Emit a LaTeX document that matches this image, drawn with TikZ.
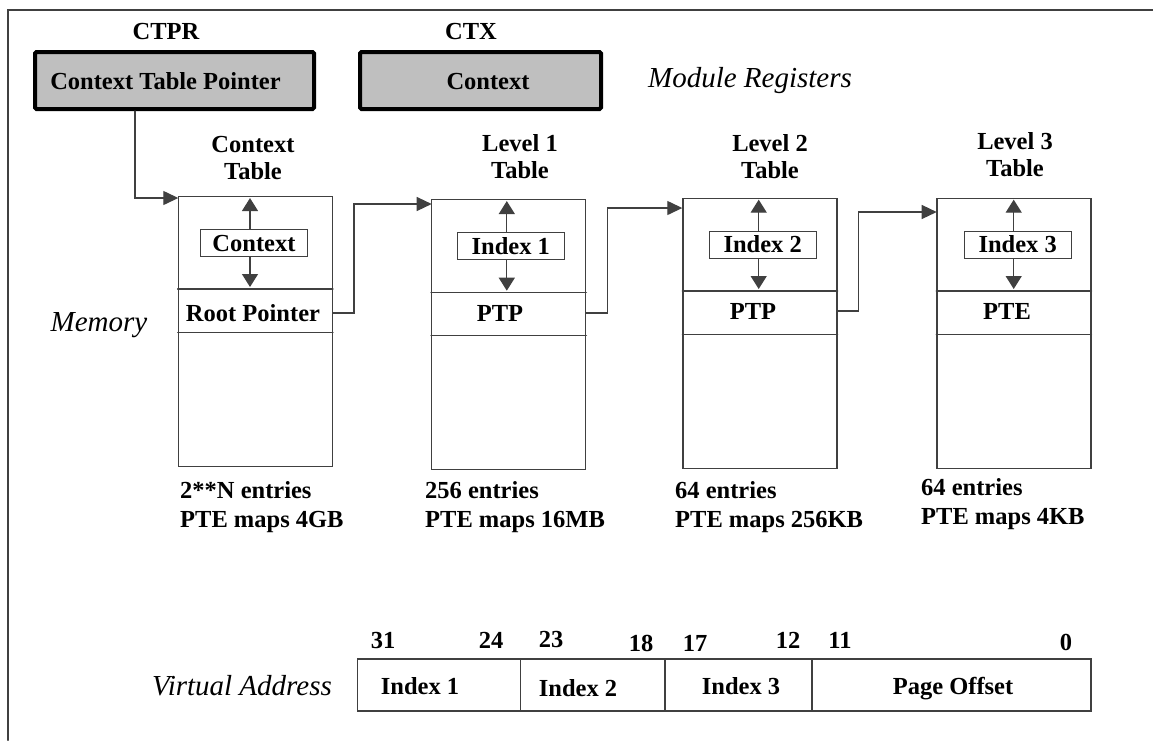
\documentclass[tikz,border=0pt]{standalone}
\usepackage{fontspec}
\setmainfont{Liberation Serif}
\usetikzlibrary{arrows.meta}

\begin{document}
\begin{tikzpicture}
		[x=1pt,y=-1pt,line cap=round,
		%Styles
		lab/.style={font=\fontsize{24.5}{27}\selectfont\bfseries,inner sep=0pt,text height=16pt,text depth=0pt},
		two lines/.style={font=\fontsize{24.5}{27}\selectfont\bfseries,inner sep=0pt,align=center},
		notes/.style={font=\fontsize{24.5}{29}\selectfont\bfseries,inner sep=0pt,align=left,anchor=west},
		side text/.style={font=\fontsize{29}{32}\selectfont\itshape,inner sep=0pt,text height=19pt,text depth=0pt},
		register/.style={draw=black,line width=4pt,fill=regcolor,rounded corners=1.5pt,minimum width=279pt,minimum height=57pt,inner sep=0pt},
		pagetable/.style={draw=linecolor,line width=1.3pt,minimum width=154pt,minimum height=270pt,inner sep=0pt},
		row line/.style={linecolor,line width=1.3pt},
		idxbox/.style={draw=linecolor,line width=1.3pt,minimum width=107pt,minimum height=27pt,inner sep=0pt,font=\fontsize{24.5}{27}\selectfont\bfseries,text height=16pt,text depth=0pt},
		field/.style={draw=linecolor,line width=1.5pt,minimum height=52pt,inner sep=0pt},
		ptr/.style={linecolor,line width=1.3pt,shorten >=2pt,-{Triangle[length=13pt,width=16pt]}},
		pointer line/.style={linecolor,line width=1.3pt,-{Triangle[length=15pt,width=14pt]}}
		]
		
		%Colors
		\colorlet{regcolor}{black!25}	%register fill
		\colorlet{linecolor}{black!75}	%boxes and connectors
		
		\useasboundingbox (0,0) rectangle (1153,740);
		\draw[linecolor,line width=2pt] (8,740) -- (8,10) -- (1153,10);
		
		%Module registers
		\node[lab] (ctprname) at (166,31) {CTPR};
		\node[register] (ctpr) at (174.5,80.5) {};
		\node[lab] (ctprtext) at (165.5,81) {Context Table Pointer};
		\node[lab] (ctxname) at (471,31) {CTX};
		\node[register,minimum width=241pt] (ctx) at (480.5,80.5) {};
		\node[lab] (ctxtext) at (488,81) {Context};
		\node[side text] (modregs) at (750,78) {Module Registers};
		
		\node[side text] (memory) at (99,322) {Memory};
		
		%Context table
		\node[pagetable] (ct) at (255.3,331.7) {};
		\node[two lines] (cttitle) at (253,158) {Context\\Table};
		\draw[row line] (ct.west |- 0,289) coordinate (ctrow) -- (ct.east |- 0,289);
		\draw[row line] (ct.west |- 0,332.7) -- (ct.east |- 0,332.7);
		\node[idxbox] (ctidx) at (254,243) {Context};
		\draw[ptr] ([xshift=-4pt]ctidx.north) -- ([xshift=-4pt]ctidx.north |- ct.north);
		\draw[ptr] ([xshift=-4pt]ctidx.south) -- ([xshift=-4pt]ctidx.south |- ctrow);
		\node[lab] (rootptr) at (253,313) {Root Pointer};
		
		%Level 1 table
		\node[pagetable] (l1) at (508.7,334.7) {};
		\node[two lines] (l1title) at (520,157) {Level 1\\Table};
		\draw[row line] (l1.west |- 0,292.7) coordinate (l1row) -- (l1.east |- 0,292.7);
		\draw[row line] (l1.west |- 0,335.7) -- (l1.east |- 0,335.7);
		\node[idxbox] (l1idx) at (510.8,246.3) {Index 1};
		\draw[ptr] ([xshift=-4pt]l1idx.north) -- ([xshift=-4pt]l1idx.north |- l1.north);
		\draw[ptr] ([xshift=-4pt]l1idx.south) -- ([xshift=-4pt]l1idx.south |- l1row);
		\node[lab] (l1ptp) at (500,313) {PTP};
		
		%Level 2 table
		\node[pagetable] (l2) at (760,333.3) {};
		\node[two lines] (l2title) at (770,157) {Level 2\\Table};
		\draw[row line] (l2.west |- 0,291) coordinate (l2row) -- (l2.east |- 0,291);
		\draw[row line] (l2.west |- 0,334.3) -- (l2.east |- 0,334.3);
		\node[idxbox] (l2idx) at (762.7,244.7) {Index 2};
		\draw[ptr] ([xshift=-4pt]l2idx.north) -- ([xshift=-4pt]l2idx.north |- l2.north);
		\draw[ptr] ([xshift=-4pt]l2idx.south) -- ([xshift=-4pt]l2idx.south |- l2row);
		\node[lab] (l2ptp) at (753,311) {PTP};
		
		%Level 3 table
		\node[pagetable] (l3) at (1013.9,333.3) {};
		\node[two lines] (l3title) at (1015,155) {Level 3\\Table};
		\draw[row line] (l3.west |- 0,291) coordinate (l3row) -- (l3.east |- 0,291);
		\draw[row line] (l3.west |- 0,334.3) -- (l3.east |- 0,334.3);
		\node[idxbox] (l3idx) at (1017.7,244.7) {Index 3};
		\draw[ptr] ([xshift=-4pt]l3idx.north) -- ([xshift=-4pt]l3idx.north |- l3.north);
		\draw[ptr] ([xshift=-4pt]l3idx.south) -- ([xshift=-4pt]l3idx.south |- l3row);
		\node[lab] (l3pte) at (1007,311) {PTE};
		
		%Table walk
		\coordinate (ctin) at (178.3,198);
		\coordinate (l1in) at (431.7,204);
		\coordinate (l2in) at (682.3,208);
		\coordinate (l3in) at (936.7,212);
		\draw[pointer line] (ctpr.south -| 135,0) |- (ctin);
		\draw[pointer line] (rootptr.east -| ct.east) -- ++(21,0) |- (l1in);
		\draw[pointer line] (l1ptp.east -| l1.east) -- ++(21,0) |- (l2in);
		\draw[pointer line] (l2ptp.east -| l2.east) -- ++(21,0) |- (l3in);
		
		%Table sizes
		\node[notes] (ctnote) at (180,507) {2**N entries\\PTE maps 4GB};
		\node[notes] (l1note) at (425,507) {256 entries\\PTE maps 16MB};
		\node[notes] (l2note) at (675,507) {64 entries\\PTE maps 256KB};
		\node[notes] (l3note) at (921,504) {64 entries\\PTE maps 4KB};
		
		%Virtual address
		\node[side text] (vaname) at (242,686) {Virtual Address};
		\node[field,minimum width=163pt] (f1) at (438.8,685) {};
		\node[field,minimum width=144.7pt] (f2) at (592.7,685) {};
		\node[field,minimum width=146.7pt] (f3) at (738.4,685) {};
		\node[field,minimum width=279.3pt] (f4) at (951.4,685) {};
		\node[lab] (f1text) at (420,686) {Index 1};
		\node[lab] (f2text) at (578,688) {Index 2};
		\node[lab] (f3text) at (741,686) {Index 3};
		\node[lab] (f4text) at (953,686) {Page Offset};
		\foreach \bit/\x/\y in {31/383/640,24/491/640,23/551/639,18/641/643,17/695/643,12/788/640,11/840/640,0/1066/642}
			\node[lab] (bit\bit) at (\x,\y) {\bit};
	\end{tikzpicture}
\end{document}
